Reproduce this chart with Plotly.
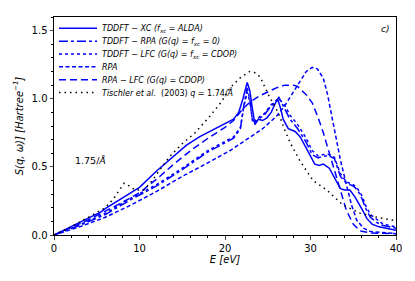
import plotly.graph_objects as go

# ---- data ----
E_xc = [0, 3, 5.5, 5.9, 8, 9.4, 10, 12, 14, 15.5, 17, 18.5, 20, 21, 21.6, 22.1, 22.6, 22.9, 23.2, 23.5,
        23.9, 24.4, 24.9, 25.4, 25.9, 26.2, 26.5, 26.8, 27.4, 28.2, 28.8, 29.4, 29.9, 30.5, 31.0, 31.5,
        32.2, 32.8, 33.5, 34.0, 34.6, 35.2, 35.6, 36.1, 36.6, 37.2, 38, 39, 40]
S_xc = [0, 0.09, 0.17, 0.19, 0.27, 0.325, 0.35, 0.47, 0.58, 0.66, 0.72, 0.77, 0.82, 0.85, 0.90, 1.0,
        1.12, 1.06, 0.93, 0.81, 0.85, 0.84, 0.86, 0.90, 0.97, 0.99, 0.93, 0.85, 0.78, 0.76, 0.72, 0.65,
        0.58, 0.52, 0.51, 0.52, 0.49, 0.42, 0.34, 0.33, 0.33, 0.28, 0.24, 0.18, 0.12, 0.08, 0.06, 0.045, 0.035]

E_rpa_td = [0, 3, 6, 9, 12, 15, 18, 20, 21, 21.8, 22.2, 22.6, 22.9, 23.2, 23.6, 24.1, 24.6, 25.3, 25.8,
            26.3, 27.0, 27.6, 28.5, 29.4, 30.2, 30.9, 31.5, 32.2, 32.8, 33.5, 34.2, 35.0, 35.5, 36.0,
            36.5, 37.0, 37.8, 38.5, 40]
S_rpa_td = [0, 0.07, 0.15, 0.26, 0.36, 0.48, 0.61, 0.68, 0.71, 0.78, 0.95, 1.08, 1.0, 0.84, 0.83, 0.86,
            0.88, 0.94, 0.97, 1.01, 0.92, 0.85, 0.78, 0.69, 0.59, 0.565, 0.58, 0.58, 0.56, 0.43, 0.38,
            0.36, 0.33, 0.27, 0.19, 0.13, 0.09, 0.07, 0.05]

E_lfc_td = [0, 3, 6, 9, 12, 15, 18, 20, 21, 21.8, 22.2, 22.6, 22.9, 23.2, 23.6, 24.1, 24.6, 25.3, 25.8,
            26.3, 27.0, 27.6, 28.5, 29.4, 30.2, 30.9, 31.5, 32.2, 32.8, 33.5, 34.2, 35.0, 35.5, 36.0,
            36.5, 37.0, 37.8, 38.5, 40]
S_lfc_td = [0, 0.075, 0.16, 0.27, 0.37, 0.49, 0.62, 0.69, 0.72, 0.79, 0.94, 1.05, 0.98, 0.85, 0.84, 0.87,
            0.89, 0.95, 0.98, 1.0, 0.95, 0.88, 0.81, 0.72, 0.62, 0.58, 0.59, 0.59, 0.57, 0.45, 0.39,
            0.37, 0.34, 0.29, 0.21, 0.15, 0.11, 0.08, 0.06]

E_rpa = [0, 3, 6, 9, 12, 15, 18, 20.6, 22.5, 24.4, 26, 27, 28, 29, 29.5, 30.2, 30.8, 31.5, 32.0, 32.5,
         32.9, 33.5, 34.2, 34.8, 35.4, 36.2, 37, 38.5, 40]
S_rpa = [0, 0.06, 0.13, 0.22, 0.32, 0.43, 0.53, 0.62, 0.70, 0.78, 0.87, 0.95, 1.05, 1.15, 1.20, 1.23,
         1.22, 1.15, 1.03, 0.87, 0.74, 0.55, 0.37, 0.22, 0.11, 0.05, 0.025, 0.015, 0.01]

E_rpa_lfc = [0, 4, 8, 10, 12, 14, 16, 18, 20, 21, 22, 23, 24, 25, 26, 27, 28, 28.5, 29.5, 30.2, 30.9,
             31.5, 32.1, 32.7, 33.5, 34.2, 35, 35.8, 37, 40]
S_rpa_lfc = [0, 0.11, 0.24, 0.31, 0.41, 0.52, 0.62, 0.71, 0.79, 0.84, 0.92, 0.98, 1.02, 1.05, 1.08, 1.10,
             1.10, 1.09, 1.03, 0.97, 0.86, 0.75, 0.62, 0.50, 0.32, 0.18, 0.08, 0.03, 0.015, 0.01]

E_tis = [0, 2, 4, 6, 7, 7.7, 8.2, 8.8, 9.5, 10.5, 11.5, 12.5, 13.6, 15, 16.5, 18.2, 19.5, 20.6, 21.7,
         22.9, 23.6, 24.1, 24.7, 25.3, 25.8, 26.4, 27.0, 27.6, 28.2, 28.8, 30.3, 31.9, 33.8, 35.8, 37.8,
         39.7, 40]
S_tis = [0, 0.06, 0.13, 0.2, 0.27, 0.33, 0.38, 0.36, 0.33, 0.33, 0.40, 0.49, 0.58, 0.67, 0.75, 0.87,
         0.97, 1.08, 1.15, 1.20, 1.19, 1.16, 1.08, 1.0, 0.95, 0.87, 0.77, 0.68, 0.61, 0.54, 0.40, 0.33,
         0.22, 0.16, 0.13, 0.11, 0.105]

names = [
    "<i>TDDFT − XC (f<sub>xc</sub> = ALDA)</i>",
    "<i>TDDFT − RPA (G(q) = f<sub>xc</sub> = 0)</i>",
    "<i>TDDFT − LFC (G(q) = f<sub>xc</sub> = CDOP)</i>",
    "<i>RPA</i>",
    "<i>RPA − LFC (G(q) = CDOP)</i>",
    "<i>Tischler et al.</i>  (2003) <i>q</i> = 1.74/<i>Å</i>",
]

x_ticks = [0, 10, 20, 30, 40]
y_ticks = [0.0, 0.5, 1.0, 1.5]
y_tick_labels = ["0.0", "0.5", "1.0", "1.5"]

BLUE = "#0000ff"
series = [
    (E_xc, S_xc, BLUE, "solid"),
    (E_rpa_td, S_rpa_td, BLUE, "dashdot"),
    (E_lfc_td, S_lfc_td, BLUE, "dot"),
    (E_rpa, S_rpa, BLUE, "4px,2.5px"),
    (E_rpa_lfc, S_rpa_lfc, BLUE, "7px,4px"),
    (E_tis, S_tis, "black", "1.5px,4px"),
]

W, H = 407, 273
ML, MR, MT, MB = 46, 19, 6, 46
plot_h = H - MT - MB
font = "DejaVu Sans"

fig = go.Figure()
legend_layout = {}
for i, ((x, y, c, d), n) in enumerate(zip(series, names)):
    key = "legend" if i == 0 else f"legend{i + 1}"
    fig.add_trace(go.Scatter(x=x, y=y, mode="lines", name=n, legend=key,
                             line=dict(color=c, width=1.5, dash=d)))
    # one compact legend per entry, stacked 13 px apart
    yc = 1 - (11.5 + 13 * i) / plot_h
    legend_layout[key] = dict(x=0.0, y=yc, xanchor="left", yanchor="middle",
                              bgcolor="rgba(0,0,0,0)",
                              font=dict(size=8, family=font), itemwidth=38)

fig.update_layout(
    width=W, height=H,
    margin=dict(l=ML, r=MR, t=MT, b=MB),
    paper_bgcolor="white", plot_bgcolor="white",
    font=dict(family=font, size=10, color="black"),
    showlegend=True,
    annotations=[
        dict(x=0.985, y=0.975, xref="paper", yref="paper", text="<i>c)</i>",
             showarrow=False, xanchor="right", yanchor="top", font=dict(size=9)),
        dict(x=4.3, y=0.55, xref="x", yref="y", text="1.75/<i>Å</i>",
             showarrow=False, font=dict(size=9.5)),
    ],
    **legend_layout,
)
fig.update_xaxes(range=[0, 40], tickvals=x_ticks, ticks="outside", ticklen=3.5,
                 showgrid=False, zeroline=False, showline=True, linecolor="black",
                 linewidth=1, mirror=True, automargin=False,
                 minor=dict(dtick=2, ticks="outside", ticklen=2, tickcolor="black"),
                 title=dict(text="<i>E [eV]</i>", font=dict(size=10), standoff=2))
fig.update_yaxes(range=[0, 1.6], tickvals=y_ticks, ticktext=y_tick_labels,
                 ticks="outside", ticklen=3.5,
                 showgrid=False, zeroline=False, showline=True, linecolor="black",
                 linewidth=1, mirror=True, automargin=False,
                 minor=dict(dtick=0.1, ticks="outside", ticklen=2, tickcolor="black"),
                 title=dict(text="<i>S(q, ω)] [Hartree<sup>−1</sup>]</i>",
                            font=dict(size=10), standoff=6))

fig.write_html("out.html")
